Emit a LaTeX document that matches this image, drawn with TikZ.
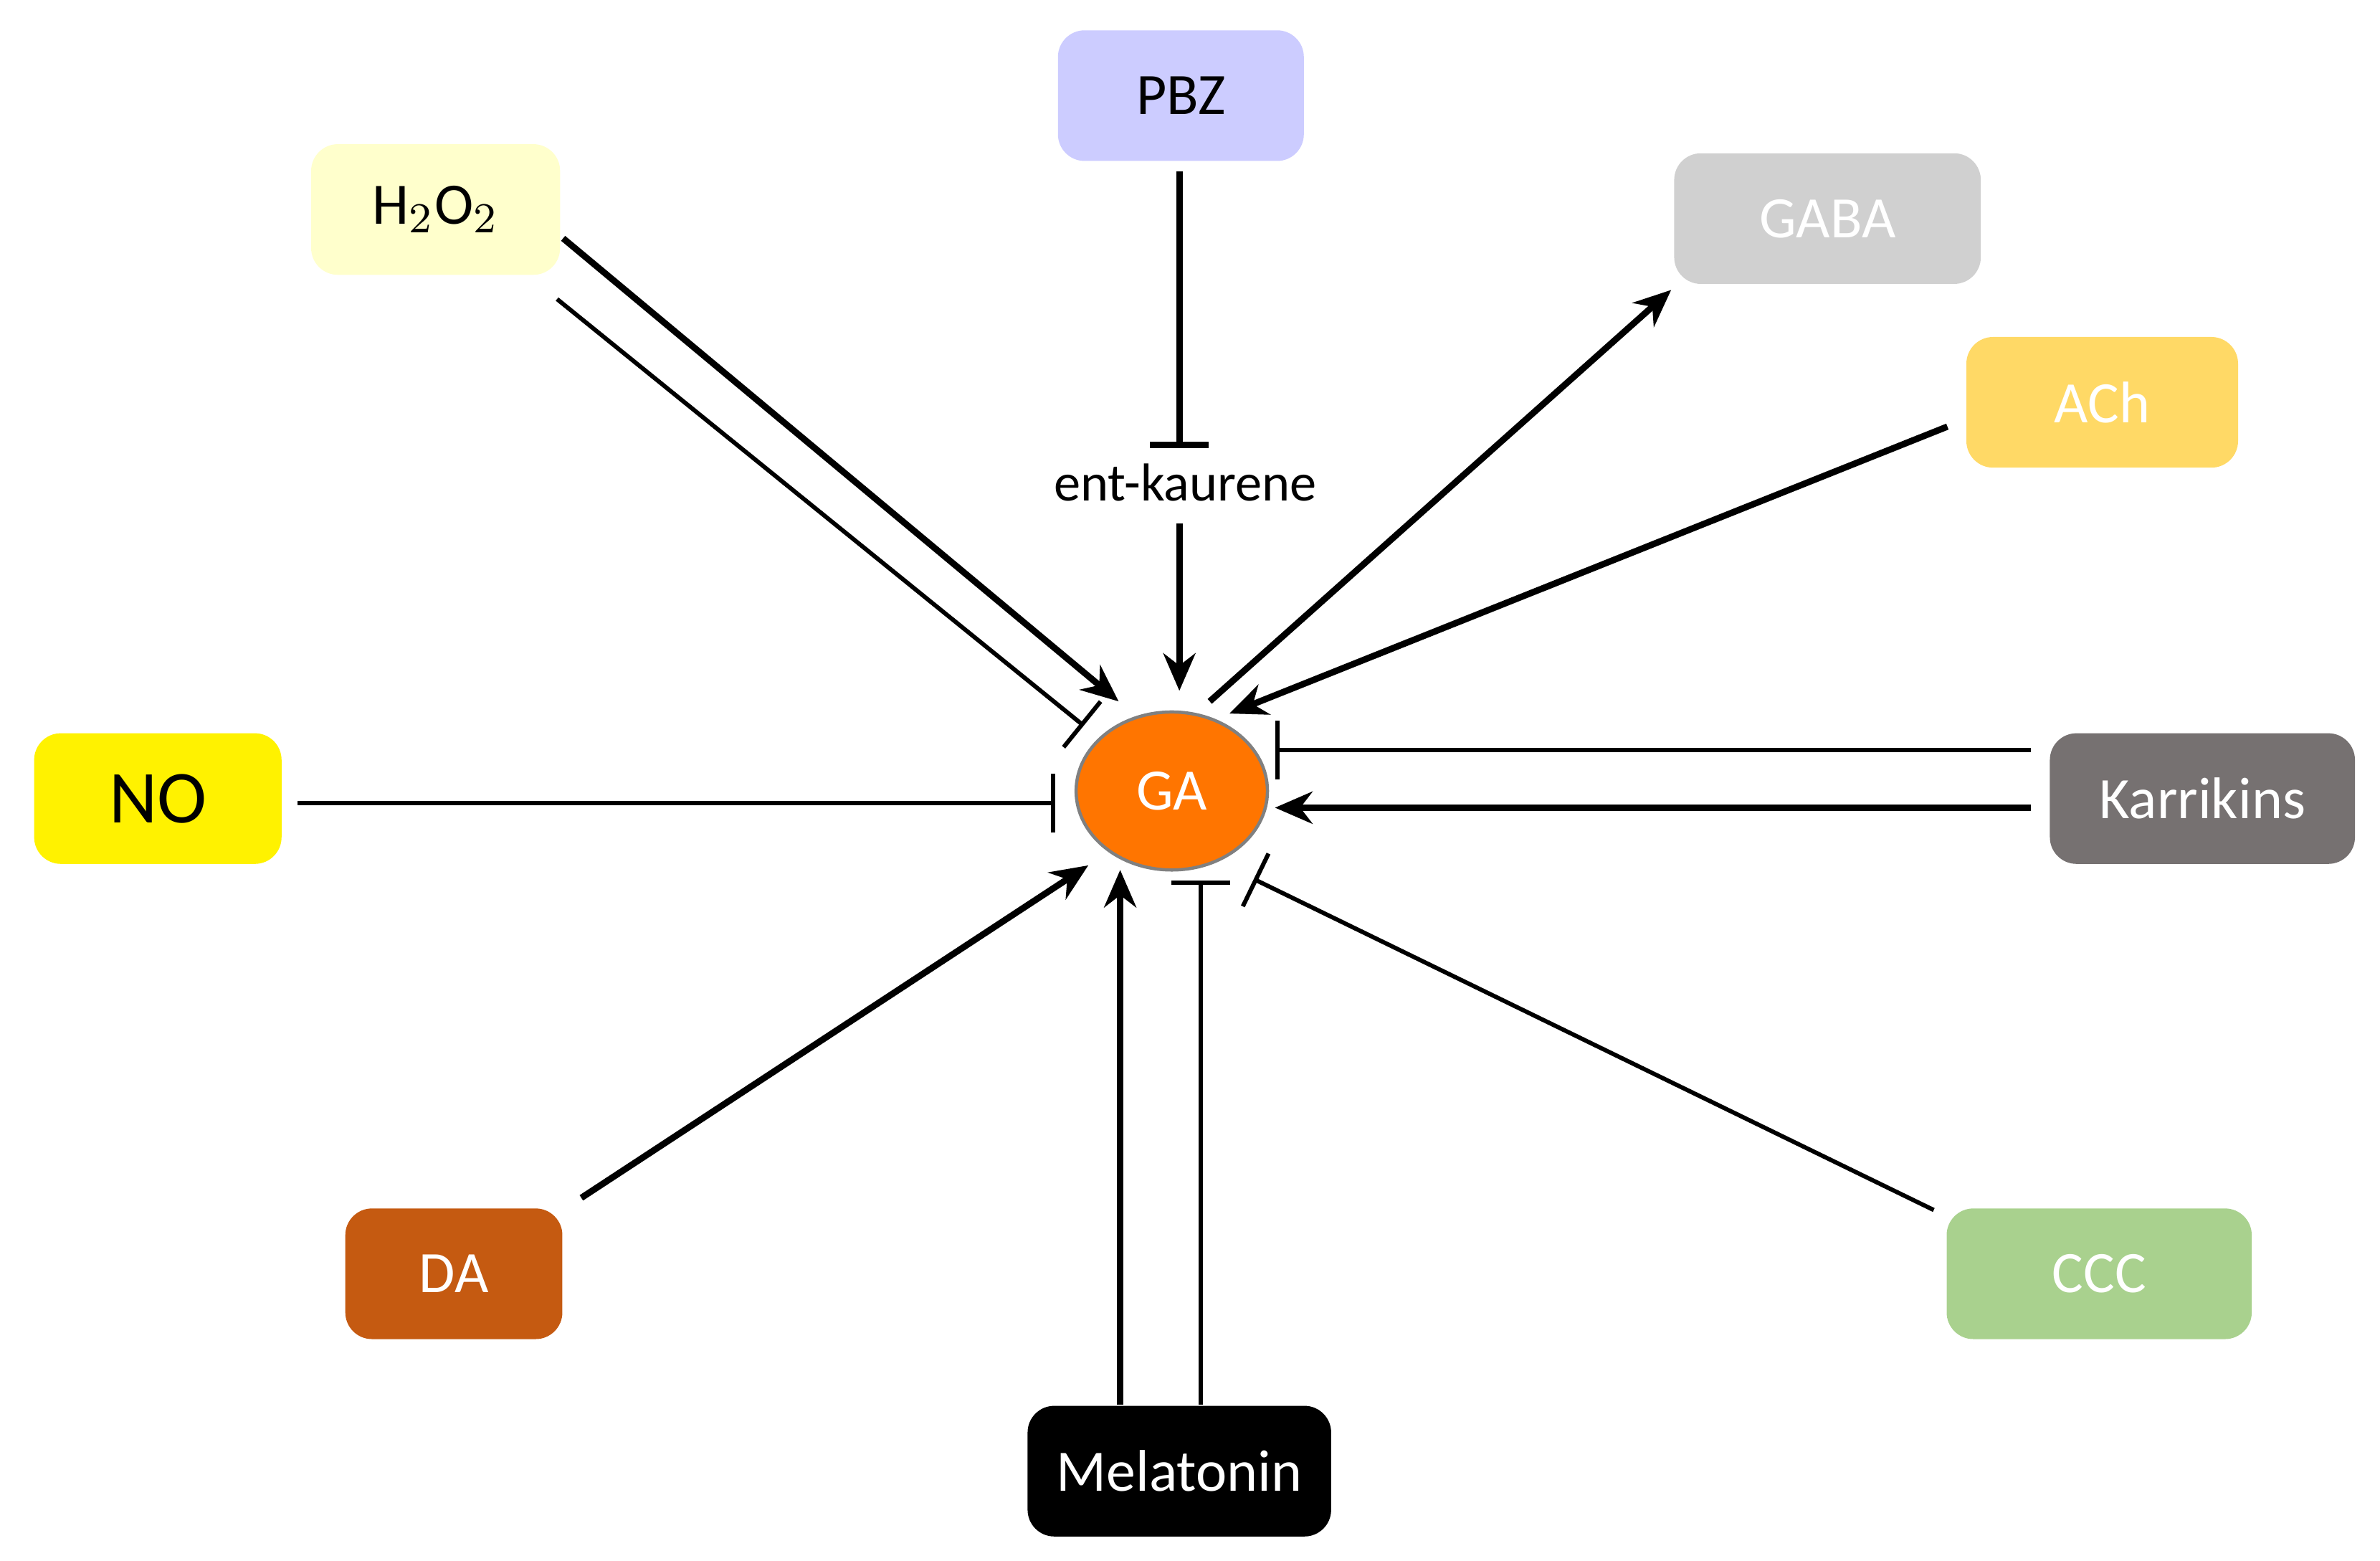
\documentclass[tikz,border=0pt]{standalone}
\usepackage{fontspec}
\setmainfont{Carlito}
\usetikzlibrary{arrows.meta,shapes.geometric}
\definecolor{cPBZ}{RGB}{204,204,255}
\definecolor{cH}{RGB}{255,255,204}
\definecolor{cGABA}{RGB}{208,208,208}
\definecolor{cACh}{RGB}{255,217,102}
\definecolor{cKar}{RGB}{118,113,113}
\definecolor{cDA}{RGB}{197,90,17}
\definecolor{cCCC}{RGB}{169,209,142}
\definecolor{cGA}{RGB}{255,117,0}
\begin{document}
\begin{tikzpicture}[x=0.01cm,y=-0.01cm,
 box/.style={rounded corners=5pt,minimum width=#1*0.01cm,minimum height=0.86cm,inner sep=0pt,font=\fontsize{11}{12}\selectfont},
 act/.style={line width=1.2pt,-{Stealth[length=7pt,width=6pt]}},
 inh/.style={line width=0.8pt,-{Bar[width=11pt]}},
 inhk/.style={line width=1.2pt,-{Bar[width=11pt]}}]
\useasboundingbox (0,0) rectangle (1568,1028);
\fill[white] (0,0) rectangle (1568,1028);
\node[box=162,fill=cPBZ] (pbz) at (778,63) {PBZ};
\node[box=164,fill=cH] (h) at (287,138) {H$_2$O$_2$};
\node[box=202,fill=cGABA,text=white] (gaba) at (1204,144) {GABA};
\node[box=179,fill=cACh,text=white] (ach) at (1385,265) {ACh};
\node[box=163,fill=yellow,font=\fontsize{14}{15}\selectfont] (no) at (104,526) {NO};
\node[box=201,fill=cKar,text=white] (kar) at (1451,526) {Karrikins};
\node[box=143,fill=cDA,text=white] (da) at (299,839) {DA};
\node[box=201,fill=cCCC,text=white] (ccc) at (1383,839) {CCC};
\node[box=200,fill=black,text=white] (mel) at (777,969) {Melatonin};
\node[ellipse,draw=gray,line width=0.6pt,fill=cGA,text=white,minimum width=1.26cm,minimum height=1.04cm,inner sep=0pt,font=\fontsize{11}{12}\selectfont] (ga) at (772,521) {GA};
\node[inner sep=1pt,font=\fontsize{10}{11}\selectfont] (ent) at (781,318) {ent-kaurene};
% PBZ
\draw[inhk] (777,113) coordinate (p1) -- (777,295) coordinate (p2);
\draw[act] (777,345) coordinate (e1) -- (777,455) coordinate (e2);
% H2O2
\draw[act] (371,157) coordinate (h1) -- (737,462) coordinate (h2);
\draw[inh] (367,197) coordinate (h3) -- (714,478) coordinate (h4);
% GABA
\draw[act] (797,462) coordinate (g1) -- (1101,191) coordinate (g2);
% ACh
\draw[act] (1283,281) coordinate (a1) -- (810,470) coordinate (a2);
% NO
\draw[inh] (196,529) coordinate (n1) -- (695,529) coordinate (n2);
% Karrikins
\draw[inh] (1338,494) coordinate (k1) -- (840,494) coordinate (k2);
\draw[act] (1338,532) coordinate (k3) -- (840,532) coordinate (k4);
% DA
\draw[act] (383,789) coordinate (d1) -- (717,570) coordinate (d2);
% Melatonin
\draw[act] (738,925) coordinate (m1) -- (738,573) coordinate (m2);
\draw[inh] (791,925) coordinate (m3) -- (791,580) coordinate (m4);
% CCC
\draw[inh] (1274,797) coordinate (c1) -- (826,579) coordinate (c2);
\end{tikzpicture}
\end{document}
